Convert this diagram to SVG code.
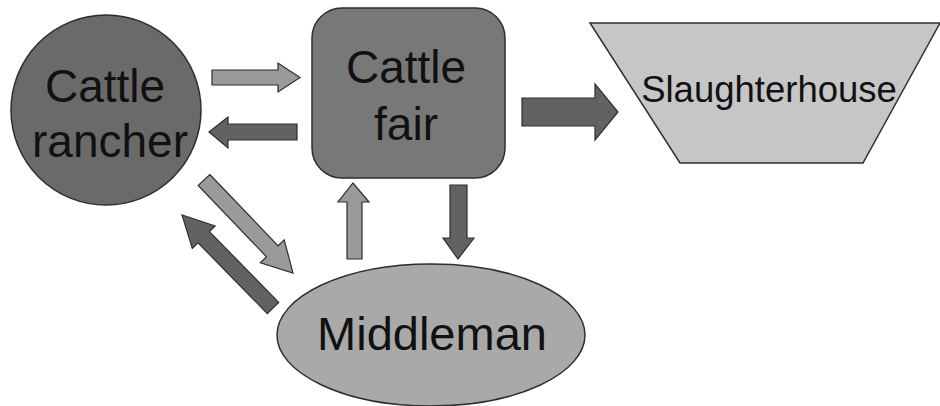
<svg xmlns="http://www.w3.org/2000/svg" width="940" height="406" viewBox="0 0 940 406">
<style>
.node{stroke:#2e2e2e;stroke-width:1.5}
.lbl{font-family:"Liberation Sans",Arial,sans-serif;fill:#111;text-anchor:middle}
.light{fill:#9a9a9a;stroke:#2e2e2e;stroke-width:1.2}
.dark{fill:#626262;stroke:#2e2e2e;stroke-width:1.2}
</style>
<rect width="940" height="406" fill="#fff"/>
<g id="connectors">
<polygon class="light" points="212,70 278,70 278,63 300,77.5 278,92 278,85 212,85"/>
<polygon class="dark" points="297,124 228,124 228,117 209,132 228,148 228,140 297,140"/>
<polygon class="dark" points="522,98 595,98 595,84 618,112 595,140 595,126 522,126"/>
<polygon class="light" points="362,259 362,202 369,202 353,183 338,202 347,202 347,259"/>
<polygon class="dark" points="450,185 467,185 467,238 474,238 458,259 443,238 450,238"/>
<polygon class="light" points="209.8,174.5 278.1,245.8 284.2,239.9 293,273 260.4,262.7 266.5,256.8 198.2,185.5"/>
<polygon class="dark" points="278.7,302.4 209.4,231.6 215.1,226 182,215 192.3,248.4 198,242.8 267.3,313.6"/>
</g>
<g id="cattle-rancher">
<circle class="node" cx="106" cy="110" r="95" fill="#6a6a6a"/>
<text class="lbl" x="105" y="102" font-size="46">Cattle</text>
<text class="lbl" x="110" y="157" font-size="46">rancher</text>
</g>
<g id="cattle-fair">
<rect class="node" x="312" y="8" width="193" height="170" rx="30" fill="#787878"/>
<text class="lbl" x="406" y="83" font-size="46">Cattle</text>
<text class="lbl" x="406" y="140" font-size="46">fair</text>
</g>
<g id="slaughterhouse">
<polygon class="node" points="590,23 940,23 863,163 680,163" fill="#c6c6c6"/>
<text class="lbl" x="769" y="102" font-size="36.5">Slaughterhouse</text>
</g>
<g id="middleman">
<ellipse class="node" cx="431" cy="335" rx="154" ry="71" fill="#a9a9a9"/>
<text class="lbl" x="432" y="350" font-size="47">Middleman</text>
</g>
</svg>
